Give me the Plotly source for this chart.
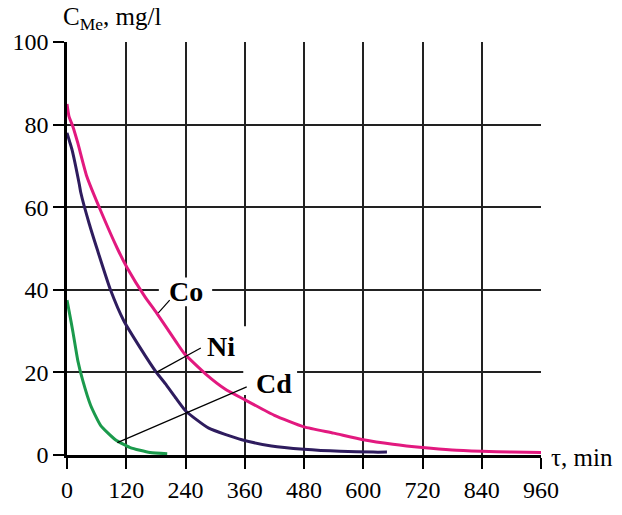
import plotly.graph_objects as go

# time, min
co_t = [0, 4, 12, 22, 40, 68, 102, 122, 158, 181, 221, 238, 281, 320, 360, 420, 480, 540, 600, 660, 720, 780, 840, 900, 960]
co_c = [85, 82, 79.5, 75.5, 67.5, 59.2, 50, 45.3, 38.3, 34.5, 27.4, 24.5, 19.6, 16, 13.4, 9.6, 6.8, 5.3, 3.7, 2.6, 1.8, 1.2, 0.9, 0.7, 0.6]

ni_t = [0, 5, 10, 25, 28, 45, 62, 88, 115, 148, 181, 201, 221, 241, 287, 354, 414, 480, 553, 620, 648]
ni_c = [78, 76, 74, 65.5, 63.5, 56, 49.5, 40, 32.5, 26, 20, 17, 13.7, 10.6, 6.5, 3.7, 2.2, 1.4, 0.9, 0.7, 0.7]

cd_t = [0, 4, 12, 22, 32, 48, 68, 98, 128, 168, 203]
cd_c = [37.5, 35, 29.8, 22.8, 18, 12, 7.2, 3.7, 1.8, 0.6, 0.3]

x_ticks = [0, 120, 240, 360, 480, 600, 720, 840, 960]
y_ticks = [0, 20, 40, 60, 80, 100]

# label text, label position (t, c), leader start on curve (t, c), leader end (t, c)
labels = ["Co", "Ni", "Cd"]
label_pos = [(241, 39.6), (311, 26.3), (420, 17.3)]
leader_from = [(185, 34.4), (181, 20.0), (102, 3.0)]
leader_to = [(208, 37.5), (271, 25.9), (364, 16.5)]
# white patches that break the grid around the labels (t0, t1, c0, c1)
label_gaps = [(186, 294, 36, 43), (280, 368, 20.6, 31.2), (357, 466, 14.5, 21)]

CO_COLOR = "#e2197f"
NI_COLOR = "#2e1c5e"
CD_COLOR = "#1b9a4c"
FONT = "Liberation Serif"

fig = go.Figure()
fig.add_trace(go.Scatter(x=co_t, y=co_c, mode="lines", line=dict(color=CO_COLOR, width=3, shape="spline", smoothing=0.5), name="Co"))
fig.add_trace(go.Scatter(x=ni_t, y=ni_c, mode="lines", line=dict(color=NI_COLOR, width=3, shape="spline", smoothing=0.5), name="Ni"))
fig.add_trace(go.Scatter(x=cd_t, y=cd_c, mode="lines", line=dict(color=CD_COLOR, width=3, shape="spline", smoothing=0.5), name="Cd"))

for (t0, t1, c0, c1) in label_gaps:
    fig.add_shape(type="rect", x0=t0, x1=t1, y0=c0, y1=c1, xref="x", yref="y",
                  fillcolor="white", line=dict(width=0), layer="between")

for lab, (lx, ly), (fx, fy), (tx, ty) in zip(labels, label_pos, leader_from, leader_to):
    fig.add_shape(type="line", x0=fx, y0=fy, x1=tx, y1=ty, xref="x", yref="y",
                  line=dict(color="black", width=1.2), layer="above")
    fig.add_annotation(x=lx, y=ly, xref="x", yref="y", text="<b>%s</b>" % lab, showarrow=False,
                       font=dict(family=FONT, size=28, color="black"))

fig.add_annotation(x=-0.013, y=1.0, xref="paper", yref="paper", xanchor="left", yanchor="bottom",
                   yshift=6, text="C<sub>Me</sub>, mg/l", showarrow=False,
                   font=dict(family=FONT, size=25, color="black"))
fig.add_annotation(x=1.0, y=0.0, xref="paper", yref="paper", xanchor="left", yanchor="middle",
                   xshift=8, yshift=-2, text="τ, min", showarrow=False,
                   font=dict(family=FONT, size=25, color="black"))

fig.update_xaxes(range=[0, 960], tickvals=x_ticks, ticktext=[str(v) for v in x_ticks],
                 showgrid=True, gridcolor="#222", gridwidth=1.5,
                 showline=True, linecolor="black", linewidth=2.5,
                 ticks="outside", ticklen=11, tickwidth=2, tickcolor="black",
                 tickfont=dict(family=FONT, size=24, color="black"), zeroline=False)
fig.update_yaxes(range=[0, 100], tickvals=y_ticks, ticktext=[str(v) for v in y_ticks],
                 showgrid=True, gridcolor="#222", gridwidth=1.5,
                 showline=True, linecolor="black", linewidth=2.5,
                 ticks="outside", ticklen=11, tickwidth=2, tickcolor="black",
                 tickfont=dict(family=FONT, size=24, color="black"), zeroline=False)

fig.update_layout(width=622, height=515, margin=dict(l=59, r=81, t=42, b=44),
                  plot_bgcolor="white", paper_bgcolor="white", showlegend=False)

fig.write_html("out.html", config={"displayModeBar": False},
               post_script="document.body.style.margin='0';")
